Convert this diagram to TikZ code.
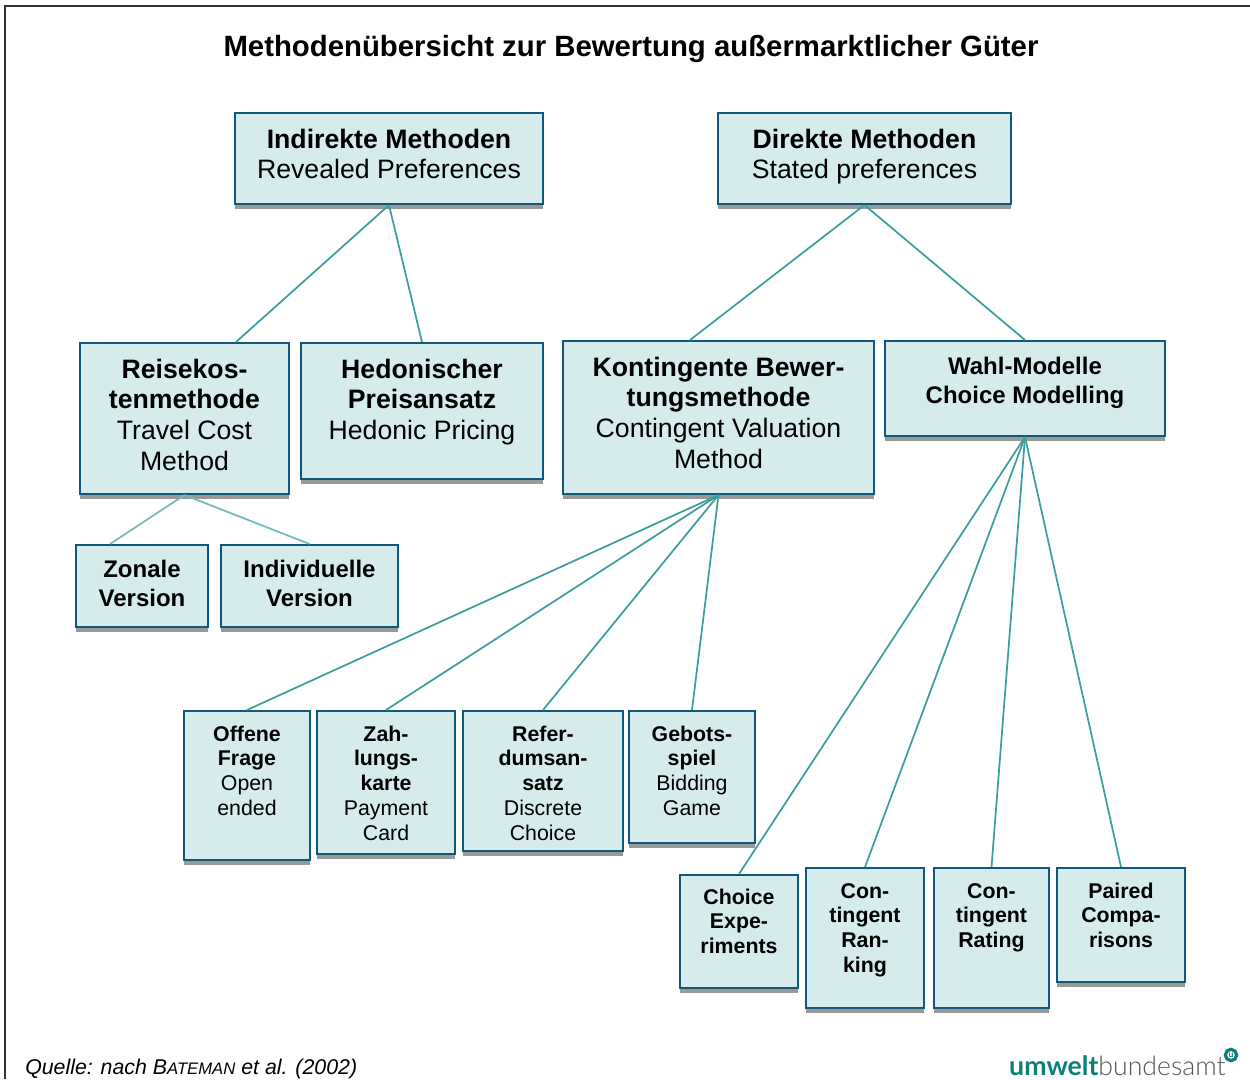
\documentclass[tikz,border=0pt]{standalone}
\usepackage{fontspec}
\setmainfont{Liberation Sans}
\newfontfamily\logofont{Lato}
\newfontfamily\logolight{Lato Light}
\usetikzlibrary{shadows}
\definecolor{cajafill}{HTML}{D6ECEC}
\definecolor{cajaborde}{HTML}{11597A}
\definecolor{linea}{HTML}{3C9E9E}
\definecolor{lineaclara}{HTML}{74BABA}
\definecolor{logoverde}{HTML}{0B8078}
\definecolor{logogris}{HTML}{555555}
\newlength{\pxu}
\setlength{\pxu}{0.75pt}
% width, height, first baseline, text
\newcommand{\caja}[4]{\begin{minipage}[t][#2\pxu][t]{#1\pxu}\centering\rule{0pt}{#3\pxu}#4\end{minipage}}
\tikzstyle{metodo} = [draw=cajaborde, fill=cajafill, line width=1.5pt, rectangle, anchor=north west, inner sep=0pt, xshift=-0.75pt, yshift=0.75pt, drop shadow={shadow xshift=0.2pt, shadow yshift=-3.8pt, fill=black, opacity=.4}]
\tikzstyle{grande} = [metodo, font=\fontsize{20}{23.1}\selectfont]
\tikzstyle{medio} = [metodo, font=\fontsize{18}{21.8}\selectfont]
\tikzstyle{chico} = [metodo, font=\fontsize{16}{18.6}\selectfont]
\tikzstyle{rama} = [draw=linea, line width=1.3pt]
\tikzstyle{ramaclara} = [draw=lineaclara, line width=1.3pt]
\begin{document}
\begin{tikzpicture}[x=0.75pt,y=-0.75pt]
	\useasboundingbox (0,0) rectangle (1250,1079);
	\draw [black!80, line width=0.9pt] (5,1079) -- (5,6) -- (1250,6);
	\node [font=\fontsize{22}{26}\selectfont\bfseries] (titulo) at (631,49) {Methodenübersicht zur Bewertung außermarktlicher Güter};

	\node [grande] (indirekte) at (235,113) {\caja{308}{91}{35}{\textbf{Indirekte Methoden}\\Revealed Preferences}};
	\node [grande] (direkte) at (718,113) {\caja{293}{91}{35}{\textbf{Direkte Methoden}\\Stated preferences}};

	\node [grande] (reise) at (80,343) {\caja{209}{151}{35}{\textbf{Reisekos-\\tenmethode}\\Travel Cost\\Method}};
	\node [grande] (hedonic) at (301,343) {\caja{242}{136}{35}{\textbf{Hedonischer\\Preisansatz}\\Hedonic Pricing}};
	\node [grande] (kontingent) at (563,341) {\caja{311}{153}{35}{\textbf{Kontingente Bewer-\\tungsmethode}\\Contingent Valuation\\Method}};
	\node [medio] (wahl) at (885,341) {\caja{280}{95}{33}{\textbf{Wahl-Modelle\\Choice Modelling}}};

	\node [medio] (zonale) at (76,545) {\caja{132}{82}{32}{\textbf{Zonale\\Version}}};
	\node [medio] (individuelle) at (221,545) {\caja{177}{82}{32}{\textbf{Individuelle\\Version}}};

	\node [chico] (offene) at (184,711) {\caja{126}{149}{30}{\textbf{Offene\\Frage}\\Open\\ended}};
	\node [chico] (zahlung) at (317,711) {\caja{138}{143}{30}{\textbf{Zah-\\lungs-\\karte}\\Payment\\Card}};
	\node [chico] (referendum) at (463,711) {\caja{160}{140}{30}{\textbf{Refer-\\dumsan-\\satz}\\Discrete\\Choice}};
	\node [chico] (gebot) at (629,711) {\caja{126}{132}{30}{\textbf{Gebots-\\spiel}\\Bidding\\Game}};

	\node [chico] (choice) at (680,875) {\caja{118}{113}{29}{\textbf{Choice\\Expe-\\riments}}};
	\node [chico] (ranking) at (806,868) {\caja{118}{140}{30}{\textbf{Con-\\tingent\\Ran-\\king}}};
	\node [chico] (rating) at (934,868) {\caja{115}{140}{30}{\textbf{Con-\\tingent\\Rating}}};
	\node [chico] (paired) at (1057,868) {\caja{128}{114}{30}{\textbf{Paired\\Compa-\\risons}}};

	\coordinate (reisetop) at (236,342);
	\coordinate (kontingenttop) at (690,340);
	\coordinate (zonaletop) at (110,544);

	\draw [rama] (indirekte.south) -- (reisetop);
	\draw [rama] (indirekte.south) -- (hedonic.north);
	\draw [rama] (direkte.south) -- (kontingenttop);
	\draw [rama] (direkte.south) -- (wahl.north);
	\draw [ramaclara] (reise.south) -- (zonaletop);
	\draw [ramaclara] (reise.south) -- (individuelle.north);
	\draw [rama] (kontingent.south) -- (offene.north);
	\draw [rama] (kontingent.south) -- (zahlung.north);
	\draw [rama] (kontingent.south) -- (referendum.north);
	\draw [rama] (kontingent.south) -- (gebot.north);
	\draw [rama] (wahl.south) -- (choice.north);
	\draw [rama] (wahl.south) -- (ranking.north);
	\draw [rama] (wahl.south) -- (rating.north);
	\draw [rama] (wahl.south) -- (paired.north);

	\node [anchor=base west, inner sep=0pt, font=\fontsize{16}{18}\selectfont\itshape] (quelle) at (25,1074) {Quelle: nach B{\fontsize{12.5}{14}\selectfont ATEMAN} et al. (2002)};
	\node [anchor=base east, inner sep=0pt, font=\fontsize{20}{24}\selectfont] (logo) at (1226,1075) {\textcolor{logoverde}{\logofont\textbf{umwelt}}\textcolor{logogris}{\logolight bundesamt}};
	\node [circle, draw=logoverde, line width=2.4pt, fill=white, text=logoverde, inner sep=0pt, minimum size=8.5pt, font=\fontsize{6.5}{7}\selectfont\logofont\bfseries] (logou) at (1231,1055) {u};
\end{tikzpicture}
\end{document}
